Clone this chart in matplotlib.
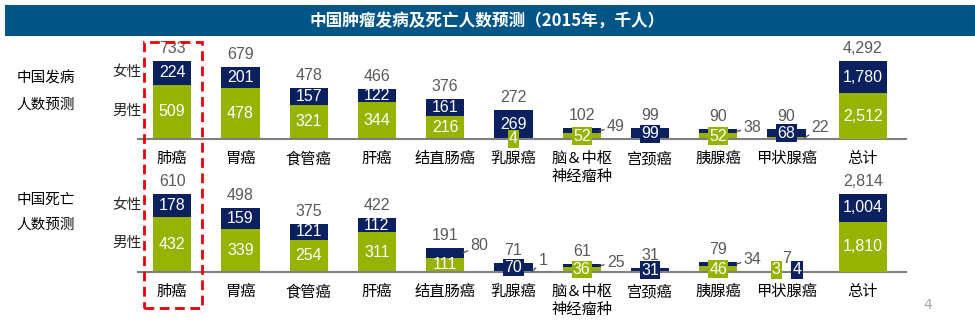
"""China cancer incidence / mortality forecast 2015 - stacked bar chart."""
import matplotlib
matplotlib.use("Agg")
import matplotlib.pyplot as plt
from matplotlib.patches import Rectangle

# ── Data (thousand people) ──────────────────────────────────
CATS = ["肺癌", "胃癌", "食管癌", "肝癌", "结直肠癌", "乳腺癌",
        "脑＆中枢\n神经瘤种", "宫颈癌", "胰腺癌", "甲状腺癌"]
TOTAL_CAT = "总计"

INC_FEMALE = [224, 201, 157, 122, 161, 269, 49, 99, 38, 68]
INC_MALE   = [509, 478, 321, 344, 216, 4, 52, 0, 52, 22]
INC_SUM    = [733, 679, 478, 466, 376, 272, 102, 99, 90, 90]
INC_TOT_FEMALE, INC_TOT_MALE, INC_TOT_SUM = 1780, 2512, 4292

MORT_FEMALE = [178, 159, 121, 112, 80, 70, 25, 31, 34, 4]
MORT_MALE   = [432, 339, 254, 311, 111, 1, 36, 0, 46, 3]
MORT_SUM    = [610, 498, 375, 422, 191, 71, 61, 31, 79, 7]
MORT_TOT_FEMALE, MORT_TOT_MALE, MORT_TOT_SUM = 1004, 1810, 2814

# labels placed outside the bar (index -> "f"/"m") and split labels
OUT_INC = {6: "f", 8: "f", 9: "m"}
OUT_MORT = {4: "f", 5: "m", 6: "f", 8: "f"}
SPLIT_MORT = {9}

# ── Style ───────────────────────────────────────────────────
NAVY  = "#0B215F"
GREEN = "#95B300"
GRAY  = "#595959"
AXIS  = "#7F7F7F"
TITLE_BG = "#005587"
RED = "#E8000B"
CJK = ["Noto Sans CJK SC", "DejaVu Sans"]
NUM = ["Liberation Sans Narrow", "Liberation Sans", "DejaVu Sans"]

W, H = 975, 327
fig = plt.figure(figsize=(W / 100, H / 100), dpi=100)


def fx(px):
    return px / W


def fy(py):
    return 1 - py / H


X = list(range(len(CATS)))
X_TOT = 10.12
BAR_W = 0.56
TOT_W = 0.70
X_PER_PX = 11.25 / 768


def seg_label(ax, x, lo, v, color, pxu):
    if v == 0:
        return
    mid = lo + v / 2
    if v * pxu >= 12:
        ax.text(x, mid, f"{v:,}", ha="center", va="center", color="white",
                fontsize=11.5, family=NUM, zorder=5)
    else:
        ax.text(x, mid, f"{v:,}", ha="center", va="center", color="white",
                fontsize=11.5, family=NUM, zorder=5,
                bbox=dict(boxstyle="square,pad=0.08", fc=color, ec="none"))


def out_label(ax, x, lo, v, top, pxu):
    mid = lo + v / 2
    ax.annotate(f"{v}", xy=(x + BAR_W / 2 - 1 * X_PER_PX, mid),
                xytext=(x + BAR_W / 2 + 6 * X_PER_PX, top + 2 / pxu),
                ha="left", va="center", color=GRAY, fontsize=11.5, family=NUM,
                zorder=6,
                arrowprops=dict(arrowstyle="-", color=GRAY, lw=1.0,
                                shrinkA=0, shrinkB=0))


def draw_panel(base_px, female, male, sums, tot_f, tot_m, tot_s, outside, split):
    ax = fig.add_axes([fx(138), fy(base_px), (906 - 138) / W, 99 / H])
    pxu = 78 / sums[0]            # pixels per unit
    ymax = 99 / pxu
    ax.set_xlim(-0.5, 10.75)
    ax.set_ylim(0, ymax)
    ax.bar(X, male, BAR_W, color=GREEN, zorder=2)
    ax.bar(X, female, BAR_W, bottom=male, color=NAVY, zorder=2)

    for i in X:
        m, f, s = male[i], female[i], sums[i]
        ax.annotate(f"{s:,}", (i, s), xytext=(0, 9), textcoords="offset points",
                    ha="center", va="center", color=GRAY, fontsize=11.5, family=NUM)
        if i in split:
            for v, c, dx in ((m, GREEN, -0.15), (f, NAVY, 0.15)):
                ax.text(i + dx, 2 / pxu, f"{v}", ha="center", va="center",
                        color="white", fontsize=11.5, family=NUM, zorder=5,
                        bbox=dict(boxstyle="square,pad=0.08", fc=c, ec="none"))
            continue
        side = outside.get(i)
        if side == "m":
            out_label(ax, i, 0, m, s, pxu)
        else:
            seg_label(ax, i, 0, m, GREEN, pxu)
        if side == "f":
            out_label(ax, i, m, f, s, pxu)
        else:
            seg_label(ax, i, m, f, NAVY, pxu)

    ax.set_xticks(X + [X_TOT])
    ax.set_xticklabels(CATS + [TOTAL_CAT], fontsize=11, family=CJK,
                       linespacing=1.05)
    ax.tick_params(axis="x", length=0, pad=8)
    ax.set_yticks([])
    for sp in ("top", "left", "right"):
        ax.spines[sp].set_visible(False)
    ax.spines["bottom"].set_color(AXIS)
    ax.spines["bottom"].set_linewidth(1.5)
    ax.spines["bottom"].set_zorder(3)
    ax.patch.set_visible(False)

    # total column on its own scale
    axt = ax.twinx()
    tpxu = 78 / tot_s
    axt.set_ylim(0, 99 / tpxu)
    axt.bar([X_TOT], [tot_m], TOT_W, color=GREEN)
    axt.bar([X_TOT], [tot_f], TOT_W, bottom=[tot_m], color=NAVY)
    seg_label(axt, X_TOT, 0, tot_m, GREEN, tpxu)
    seg_label(axt, X_TOT, tot_m, tot_f, NAVY, tpxu)
    axt.annotate(f"{tot_s:,}", (X_TOT, tot_s), xytext=(0, 9),
                 textcoords="offset points", ha="center", va="center",
                 color=GRAY, fontsize=11.5, family=NUM)
    axt.set_yticks([])
    axt.axis("off")
    return ax


draw_panel(139, INC_FEMALE, INC_MALE, INC_SUM,
           INC_TOT_FEMALE, INC_TOT_MALE, INC_TOT_SUM, OUT_INC, set())
draw_panel(272, MORT_FEMALE, MORT_MALE, MORT_SUM,
           MORT_TOT_FEMALE, MORT_TOT_MALE, MORT_TOT_SUM, OUT_MORT, SPLIT_MORT)

# ── Title bar ───────────────────────────────────────────────
fig.patches.append(Rectangle((fx(5), fy(36)), (W - 5) / W, 31 / H,
                             transform=fig.transFigure, fc=TITLE_BG, ec="none"))
fig.text(fx(487), fy(20.5), "中国肿瘤发病及死亡人数预测（2015年，千人）",
         ha="center", va="center", color="white", fontsize=12,
         fontweight="bold", family=CJK)

# ── Side labels ─────────────────────────────────────────────
for txt, y in (("中国发病", 78), ("人数预测", 105), ("中国死亡", 200), ("人数预测", 225)):
    fig.text(fx(46), fy(y), txt, ha="center", va="center", fontsize=10.5,
             family=CJK, color="black")
for txt, y in (("女性", 72), ("男性", 111), ("女性", 205), ("男性", 243)):
    fig.text(fx(127), fy(y), txt, ha="center", va="center", fontsize=10.5,
             family=CJK, color="#262626")

# ── Highlight box around lung cancer ───────────────────────
fig.patches.append(Rectangle((fx(144), fy(308)), 58 / W, 266 / H,
                             transform=fig.transFigure, fill=False,
                             ec=RED, lw=2, ls=(0, (3.5, 2))))

fig.text(fx(928), fy(305), "4", ha="center", va="center", fontsize=10,
         color="#A6A6A6")

fig.savefig("out.png", dpi=100)
